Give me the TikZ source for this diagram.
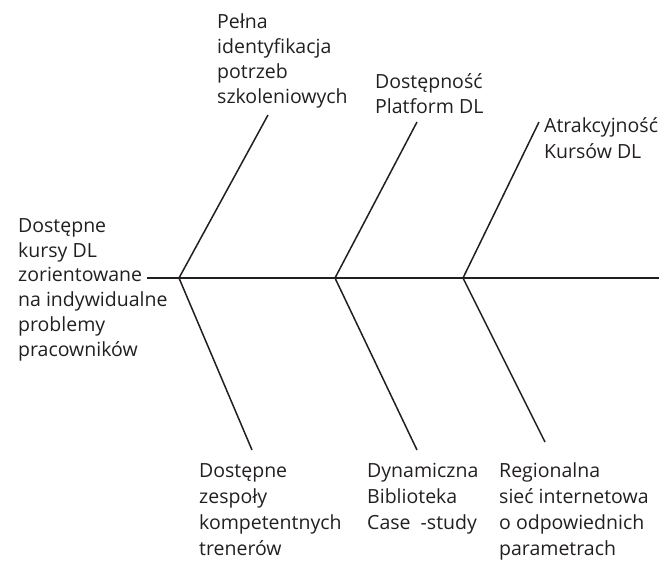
\documentclass[tikz,border=0pt]{standalone}
\usepackage{fontspec}
\setmainfont{Open Sans}
\definecolor{ink}{HTML}{231F20}
\begin{document}
\begin{tikzpicture}[x=1pt,y=-1pt,
  bone/.style={draw=ink,line width=1.5pt},
  lbl/.style={anchor=base west,inner sep=0pt,align=left,text=ink,font=\fontsize{19.5}{24.7}\selectfont},
  lblb/.style={lbl,font=\fontsize{19.5}{26}\selectfont}]
\useasboundingbox (0,0) rectangle (659,566);
% effect (head); anchor base = baseline of the last line
\node[lbl] (effect) at (18,356) {Dostępne\\kursy DL\\zorientowane\\na indywidualne\\problemy\\pracowników};
% upper causes
\node[lbl] (c1) at (217,103) {Pełna\\identyfikacja\\potrzeb\\szkoleniowych};
\node[lbl] (c2) at (375,113) {Dostępność\\Platform DL};
\node[lblb] (c3) at (544,158) {Atrakcyjność\\Kursów DL};
% lower causes
\node[lblb] (c4) at (199,555) {Dostępne\\zespoły\\kompetentnych\\trenerów};
\node[lblb] (c5) at (367,529) {Dynamiczna\\Biblioteka\\Case\ \ -study};
\node[lblb] (c6) at (499,555) {Regionalna\\sieć internetowa\\o odpowiednich\\parametrach};
% spine
\coordinate (s0) at (147,278);
\coordinate (s1) at (659,278);
\coordinate (j1) at (179,278);
\coordinate (j2) at (335,278);
\coordinate (j3) at (463,278);
\coordinate (u1) at (268,115);
\coordinate (u2) at (417,122);
\coordinate (u3) at (539,122);
\coordinate (l1) at (252,450);
\coordinate (l2) at (417,450);
\coordinate (l3) at (545,442);
\draw[bone] (s0) -- (s1);
\draw[bone] (j1) -- (u1);
\draw[bone] (j2) -- (u2);
\draw[bone] (j3) -- (u3);
\draw[bone] (j1) -- (l1);
\draw[bone] (j2) -- (l2);
\draw[bone] (j3) -- (l3);
\end{tikzpicture}
\end{document}
